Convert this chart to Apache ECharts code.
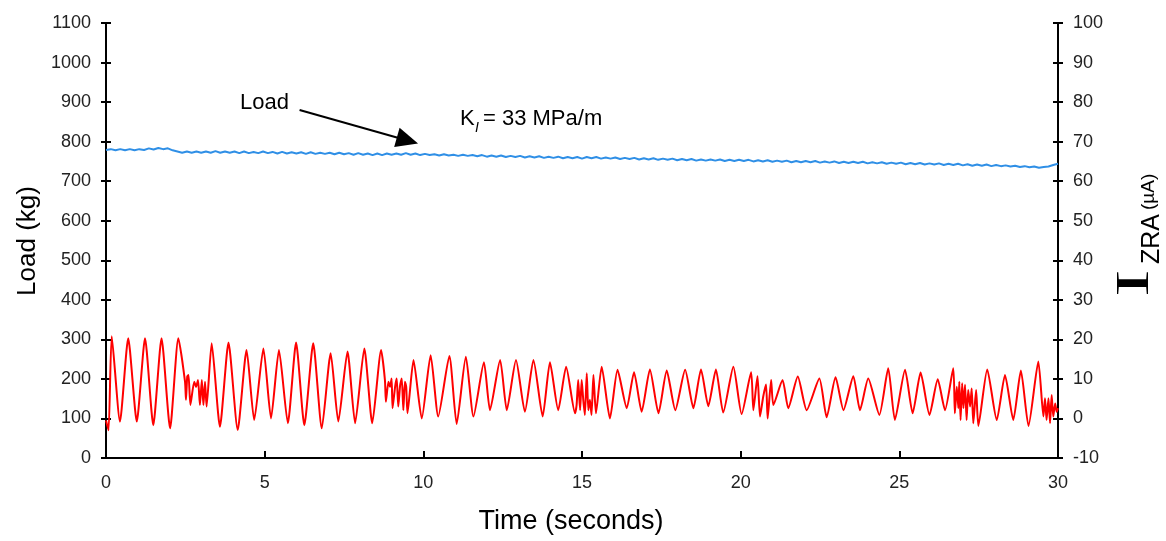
<!DOCTYPE html>
<html><head><meta charset="utf-8">
<script src="https://cdn.jsdelivr.net/npm/echarts@6/dist/echarts.min.js"></script>
<style>html,body{margin:0;padding:0;background:#fff}#c{width:1166px;height:541px}</style>
</head><body><div id="c"></div>
<script>
// ---- data ----
const timeTicks = [0, 5, 10, 15, 20, 25, 30];
const loadAxis = { min: 0, max: 1100, step: 100 };
const currentAxis = { min: -10, max: 100, step: 10 };

// Load (kg) – blue trace, sampled every 0.15 s
const blueTime = [0,0.15,0.3,0.45,0.6,0.75,0.9,1.05,1.2,1.35,
1.5,1.65,1.8,1.95,2.1,2.25,2.4,2.55,2.7,2.85,
3,3.15,3.3,3.45,3.6,3.75,3.9,4.05,4.2,4.35,
4.5,4.65,4.8,4.95,5.1,5.25,5.4,5.55,5.7,5.85,
6,6.15,6.3,6.45,6.6,6.75,6.9,7.05,7.2,7.35,
7.5,7.65,7.8,7.95,8.1,8.25,8.4,8.55,8.7,8.85,
9,9.15,9.3,9.45,9.6,9.75,9.9,10.05,10.2,10.35,
10.5,10.65,10.8,10.95,11.1,11.25,11.4,11.55,11.7,11.85,
12,12.15,12.3,12.45,12.6,12.75,12.9,13.05,13.2,13.35,
13.5,13.65,13.8,13.95,14.1,14.25,14.4,14.55,14.7,14.85,
15,15.15,15.3,15.45,15.6,15.75,15.9,16.05,16.2,16.35,
16.5,16.65,16.8,16.95,17.1,17.25,17.4,17.55,17.7,17.85,
18,18.15,18.3,18.45,18.6,18.75,18.9,19.05,19.2,19.35,
19.5,19.65,19.8,19.95,20.1,20.25,20.4,20.55,20.7,20.85,
21,21.15,21.3,21.45,21.6,21.75,21.9,22.05,22.2,22.35,
22.5,22.65,22.8,22.95,23.1,23.25,23.4,23.55,23.7,23.85,
24,24.15,24.3,24.45,24.6,24.75,24.9,25.05,25.2,25.35,
25.5,25.65,25.8,25.95,26.1,26.25,26.4,26.55,26.7,26.85,
27,27.15,27.3,27.45,27.6,27.75,27.9,28.05,28.2,28.35,
28.5,28.65,28.8,28.95,29.1,29.25,29.4,29.55,29.7,29.85,
30];
const blueLoad = [779,781,778,781,778,781,778,781,779,783,
780,784,781,783,778,775,772,775,772,775,
772,775,772,776,772,775,772,775,771,775,
771,774,771,775,771,774,770,774,770,773,
770,773,769,773,769,772,769,772,768,772,
768,771,767,771,767,770,766,770,766,770,
767,770,767,771,767,770,766,769,766,768,
765,768,765,767,764,767,764,766,763,766,
762,765,762,765,761,764,761,764,760,763,
760,763,759,762,759,762,758,761,758,761,
757,761,758,761,757,760,757,760,756,759,
756,759,755,758,755,758,754,757,754,757,
753,756,753,756,752,755,752,755,752,755,
751,754,751,754,751,754,750,753,750,753,
749,752,749,752,748,751,748,751,748,751,
747,750,747,750,746,749,746,749,746,749,
745,748,745,748,744,747,744,747,743,746,
743,746,742,745,742,745,741,744,741,744,
740,743,739,742,739,742,738,741,738,740,
737,739,736,738,735,737,734,736,737,741,
744];

// I_ZRA (µA) – red trace
const redTime = [0.00,0.08,0.18,0.44,0.70,0.97,1.23,1.49,1.75,2.02,2.28,
2.49,2.52,2.56,2.60,2.66,2.78,2.84,2.90,2.96,3.02,3.07,3.12,3.17,
3.33,3.59,3.86,4.15,4.43,4.67,4.96,5.20,5.45,5.73,5.99,6.25,6.53,6.80,7.08,7.32,7.61,7.85,8.14,8.39,8.67,
8.79,8.82,8.90,8.95,9.00,9.03,9.11,9.16,9.21,9.27,9.32,9.37,9.42,9.46,9.50,
9.69,9.95,10.23,10.47,10.82,11.05,11.34,11.58,11.91,12.10,12.42,12.63,12.92,13.20,13.47,13.76,13.99,14.25,14.50,14.78,
14.83,14.88,14.94,14.99,15.04,15.09,15.15,15.20,15.25,15.30,15.36,15.44,
15.62,15.88,16.12,16.41,16.64,16.88,17.14,17.41,17.67,17.94,
18.25,18.51,18.75,18.98,19.22,19.45,19.77,20.03,20.33,
20.40,20.53,20.61,20.71,20.80,20.85,20.96,21.03,
21.32,21.50,21.80,22.08,22.48,22.71,22.99,23.24,23.55,23.76,24.02,24.37,24.65,24.86,25.18,25.42,25.67,25.95,26.21,26.44,26.70,
26.75,26.81,26.86,26.89,26.93,26.98,27.02,27.07,27.12,27.17,27.23,27.28,27.33,27.42,27.49,
27.77,28.07,28.33,28.59,28.83,29.07,29.38,29.54,
29.59,29.64,29.70,29.75,29.80,29.85,29.91,29.96,30.00];
const redCurrent = [-0.5,-3.0,20.8,-0.8,20.3,-0.8,20.3,-1.7,20.3,-2.5,20.3,
9.3,4.7,10.6,11.0,3.4,9.3,8.0,9.7,3.4,9.7,3.4,9.3,3.0,
19.0,-2.1,19.2,-2.9,17.3,-0.4,17.7,0.0,17.3,-1.2,19.2,-1.7,19.0,-2.5,16.5,-0.8,16.9,-1.2,17.7,-1.2,17.3,
9.7,4.2,9.3,8.0,10.1,2.6,8.0,10.1,3.0,8.5,10.1,2.1,9.3,8.0,1.3,
14.8,0.0,16.0,0.5,15.8,-1.4,15.6,0.5,14.2,2.1,14.8,2.1,14.8,1.7,14.8,0.5,14.2,2.1,13.1,1.3,
3.4,9.7,2.1,9.7,4.7,0.9,11.4,2.1,4.7,0.9,11.0,1.3,
13.1,0.0,12.3,2.6,11.7,1.7,12.4,1.3,12.1,2.1,
12.3,2.6,12.4,3.1,12.4,1.5,13.1,1.1,11.7,
2.1,10.7,0.5,5.5,8.6,0.0,9.7,3.4,
9.7,2.6,10.6,2.1,10.1,0.3,10.4,2.1,10.7,2.1,10.1,0.9,12.7,-0.4,12.3,1.3,11.6,0.9,9.9,2.1,12.7,
1.3,8.0,2.6,9.3,-0.4,8.9,2.6,8.5,-0.4,7.2,3.0,7.6,-1.2,7.2,-1.9,
12.4,-0.4,11.0,-0.4,12.1,-1.9,14.4,0.5,
5.1,-0.4,5.1,-1.2,5.9,0.5,3.8,1.7,2.6];

// annotation arrow (data units: time, load)
const arrowFrom = [6.1, 880];
const arrowTo = [9.5, 803];

// ---- chart ----
const FONT = "Arial, 'Liberation Sans', sans-serif";
const blueData = blueTime.map((t, i) => [t, blueLoad[i]]);
const redData = redTime.map((t, i) => [t, redCurrent[i]]);
const plain = v => String(v);

function yAx(pos, cfg, inside, withLine) {
  return {
    type: 'value', position: pos, min: cfg.min, max: cfg.max, interval: cfg.step,
    axisLine: { show: withLine, onZero: false, lineStyle: { color: '#000', width: 2 } },
    axisTick: { show: true, inside: inside, length: 5, lineStyle: { color: '#000', width: 2 } },
    axisLabel: { show: withLine, margin: 15, fontSize: 18, color: '#222', fontFamily: FONT, formatter: plain },
    splitLine: { show: false }
  };
}

const chart = echarts.init(document.getElementById('c'), null, { renderer: 'canvas' });
chart.setOption({
  animation: false,
  backgroundColor: '#fff',
  grid: { left: 106, right: 108, top: 23, bottom: 83 },
  xAxis: {
    type: 'value', min: timeTicks[0], max: timeTicks[timeTicks.length - 1], interval: timeTicks[1] - timeTicks[0],
    axisLine: { onZero: false, lineStyle: { color: '#000', width: 2 } },
    axisTick: { inside: true, length: 7, lineStyle: { color: '#000', width: 2 } },
    axisLabel: { margin: 16, fontSize: 18, color: '#222', fontFamily: FONT, formatter: plain },
    splitLine: { show: false }
  },
  yAxis: [
    yAx('left', loadAxis, false, true),
    yAx('right', currentAxis, false, true),
    yAx('left', loadAxis, true, false),
    yAx('right', currentAxis, true, false)
  ],
  series: [
    {
      type: 'line', yAxisIndex: 0, data: blueData, showSymbol: false,
      lineStyle: { color: '#2f8fe6', width: 2 }, z: 3,
      markLine: {
        silent: true, symbol: ['none', 'triangle'], symbolSize: [20, 22],
        lineStyle: { color: '#000', width: 2, type: 'solid' }, label: { show: false },
        data: [[{ coord: arrowFrom }, { coord: arrowTo }]]
      }
    },
    {
      type: 'line', yAxisIndex: 1, data: redData, showSymbol: false, smooth: 0.2,
      lineStyle: { color: '#ff0000', width: 2 }, z: 4
    }
  ],
  graphic: [
    { type: 'text', left: 240, top: 92, style: { text: 'Load', font: '22px ' + FONT, fill: '#000' } },
    { type: 'text', left: 460, top: 108, style: { text: 'K', font: '22px ' + FONT, fill: '#000' } },
    { type: 'text', left: 475, top: 121, style: { text: 'I', font: 'italic 14px ' + FONT, fill: '#000' } },
    { type: 'text', left: 483, top: 108, style: { text: '= 33 MPa/m', font: '22px ' + FONT, fill: '#000' } },
    { type: 'text', x: 28, y: 241, rotation: Math.PI / 2,
      style: { text: 'Load (kg)', font: '26px ' + FONT, fill: '#000', align: 'center', verticalAlign: 'middle' } },
    { type: 'text', x: 571, y: 522,
      style: { text: 'Time (seconds)', font: '27px ' + FONT, fill: '#000', align: 'center', verticalAlign: 'middle' } },
    { type: 'group', x: 1140, y: 298, rotation: Math.PI / 2, children: [
      { type: 'text', x: 1, y: -4, scaleX: 1.8, style: { text: 'I', font: '46px "Liberation Serif", serif', fill: '#000', align: 'left', verticalAlign: 'middle' } },
      { type: 'text', x: 34, y: 12, style: { text: 'ZRA', font: '25px ' + FONT, fill: '#000', align: 'left', verticalAlign: 'middle' } },
      { type: 'text', x: 88, y: 9, style: { text: '(\u00B5A)', font: '19px ' + FONT, fill: '#000', align: 'left', verticalAlign: 'middle' } }
    ]}
  ]
});
</script>
</body></html>
